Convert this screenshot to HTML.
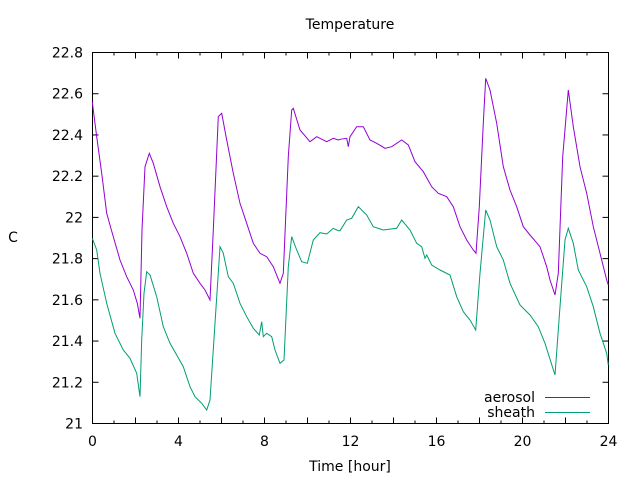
<!DOCTYPE html>
<html><head><meta charset="utf-8"><style>
body{margin:0;background:#fff;}
svg{display:block;font-family:"DejaVu Sans","Liberation Sans",sans-serif;font-size:14px;}
</style></head><body>
<svg id="s" width="640" height="480" xmlns="http://www.w3.org/2000/svg">
<rect width="640" height="480" fill="#fff"/>
<g id="ticks" stroke="#000" stroke-width="1"></g>
<rect x="92.5" y="52.5" width="516" height="371" fill="none" stroke="#000" stroke-width="1"/>
<g id="labels" fill="#000"></g>
<text x="350" y="29" text-anchor="middle">Temperature</text>
<text x="350" y="471" text-anchor="middle">Time [hour]</text>
<text x="13" y="242" text-anchor="middle">C</text>
<text x="535" y="402" text-anchor="end">aerosol</text>
<text x="535" y="417" text-anchor="end">sheath</text>
<line x1="545" y1="397.5" x2="590" y2="397.5" stroke="#9400d3"/>
<line x1="545" y1="412.5" x2="590" y2="412.5" stroke="#009e73"/>
<polyline id="a" fill="none" stroke="#9400d3" stroke-width="1"/>
<polyline id="b" fill="none" stroke="#009e73" stroke-width="1"/>
</svg>
<script>
var NS="http://www.w3.org/2000/svg";
var t=document.getElementById("ticks"),L=document.getElementById("labels");
function el(n,a,p,tx){var e=document.createElementNS(NS,n);for(var k in a)e.setAttribute(k,a[k]);if(tx)e.textContent=tx;p.appendChild(e);}
var X0=92.5,X1=608.5,Y0=52.5,Y1=423.5;
for(var h=0;h<=24;h++){var x=X0+(X1-X0)*h/24;var len=(h%2==0)?6:3;
el("line",{x1:x,y1:Y1,x2:x,y2:Y1-len},t);el("line",{x1:x,y1:Y0,x2:x,y2:Y0+len},t);
if(h%4==0)el("text",{x:x,y:446,"text-anchor":"middle"},L,String(h));}
for(var i=0;i<=9;i++){var v=21+i*0.2;var y=Y1-(Y1-Y0)*i/9;
el("line",{x1:X0,y1:y,x2:X0+6,y2:y},t);el("line",{x1:X1,y1:y,x2:X1-6,y2:y},t);
var s=(Math.round(v*10)/10).toString();el("text",{x:83,y:y+5,"text-anchor":"end"},L,s);}
var a1=[[37,185],[40,210],[50,290],[65,400],[80,520],[100,590],[120,660],[140,710],[160,750],[172,790],[180,835],[186,570],[195,380],[208,340],[220,370],[240,440],[260,500],[280,550],[300,590],[320,640],[340,700],[360,730],[375,750],[390,780],[400,570],[415,230],[425,220],[440,300],[460,400],[480,490],[500,550],[520,610],[540,640],[560,650],[580,680],[600,730],[610,700],[625,350],[635,210],[640,205],[660,270],[690,305],[710,290],[740,305],[760,295],[775,300]];
var a2=[[0,298],[20,295],[25,320],[30,290],[50,260],[70,260],[90,300],[110,310],[135,325],[155,320],[185,300],[205,315],[225,365],[250,395],[275,440],[295,460],[320,470],[340,500],[360,560],[380,600],[400,630],[408,640],[418,500],[430,250],[437,115],[450,150],[470,250],[490,380],[510,450],[530,500],[550,560],[570,585],[600,620],[620,680],[630,720],[645,765],[655,700],[668,350],[685,150],[700,260],[720,380],[740,460],[760,560],[780,640],[800,720],[805,735]];
var b1=[[37,595],[50,630],[60,700],[80,790],[105,880],[130,930],[150,955],[170,1000],[180,1070],[185,900],[192,760],[200,695],[210,705],[230,770],[250,860],[270,910],[290,945],[310,980],[330,1040],[345,1070],[365,1090],[380,1110],[390,1080],[405,850],[420,620],[430,640],[445,710],[460,730],[480,790],[500,830],[520,865],[538,885],[545,845],[550,890],[560,880],[575,890],[585,930],[600,970],[612,960],[625,680],[635,590],[650,630],[665,665],[682,670],[700,600],[720,578],[740,582],[760,565],[775,572]];
var b2=[[0,572],[20,540],[35,535],[55,500],[80,525],[100,560],[130,570],[170,565],[185,540],[210,570],[230,610],[245,620],[255,655],[260,645],[275,675],[300,690],[330,705],[350,770],[370,815],[390,840],[407,870],[420,700],[437,510],[450,540],[470,620],[490,660],[510,730],[540,795],[570,825],[595,860],[615,910],[645,1005],[660,800],[675,600],[685,565],[700,610],[715,690],[740,740],[760,800],[780,880],[800,940],[805,975]];
function pts(p1,p2){var r=[];p1.forEach(function(p){r.push((80+p[0]/3).toFixed(1)+","+(40+p[1]/3).toFixed(1));});
p2.forEach(function(p){r.push((340+p[0]/3).toFixed(1)+","+(40+p[1]/3).toFixed(1));});return r.join(" ");}
document.getElementById("a").setAttribute("points",pts(a1,a2));
document.getElementById("b").setAttribute("points",pts(b1,b2));
</script>
</body></html>
